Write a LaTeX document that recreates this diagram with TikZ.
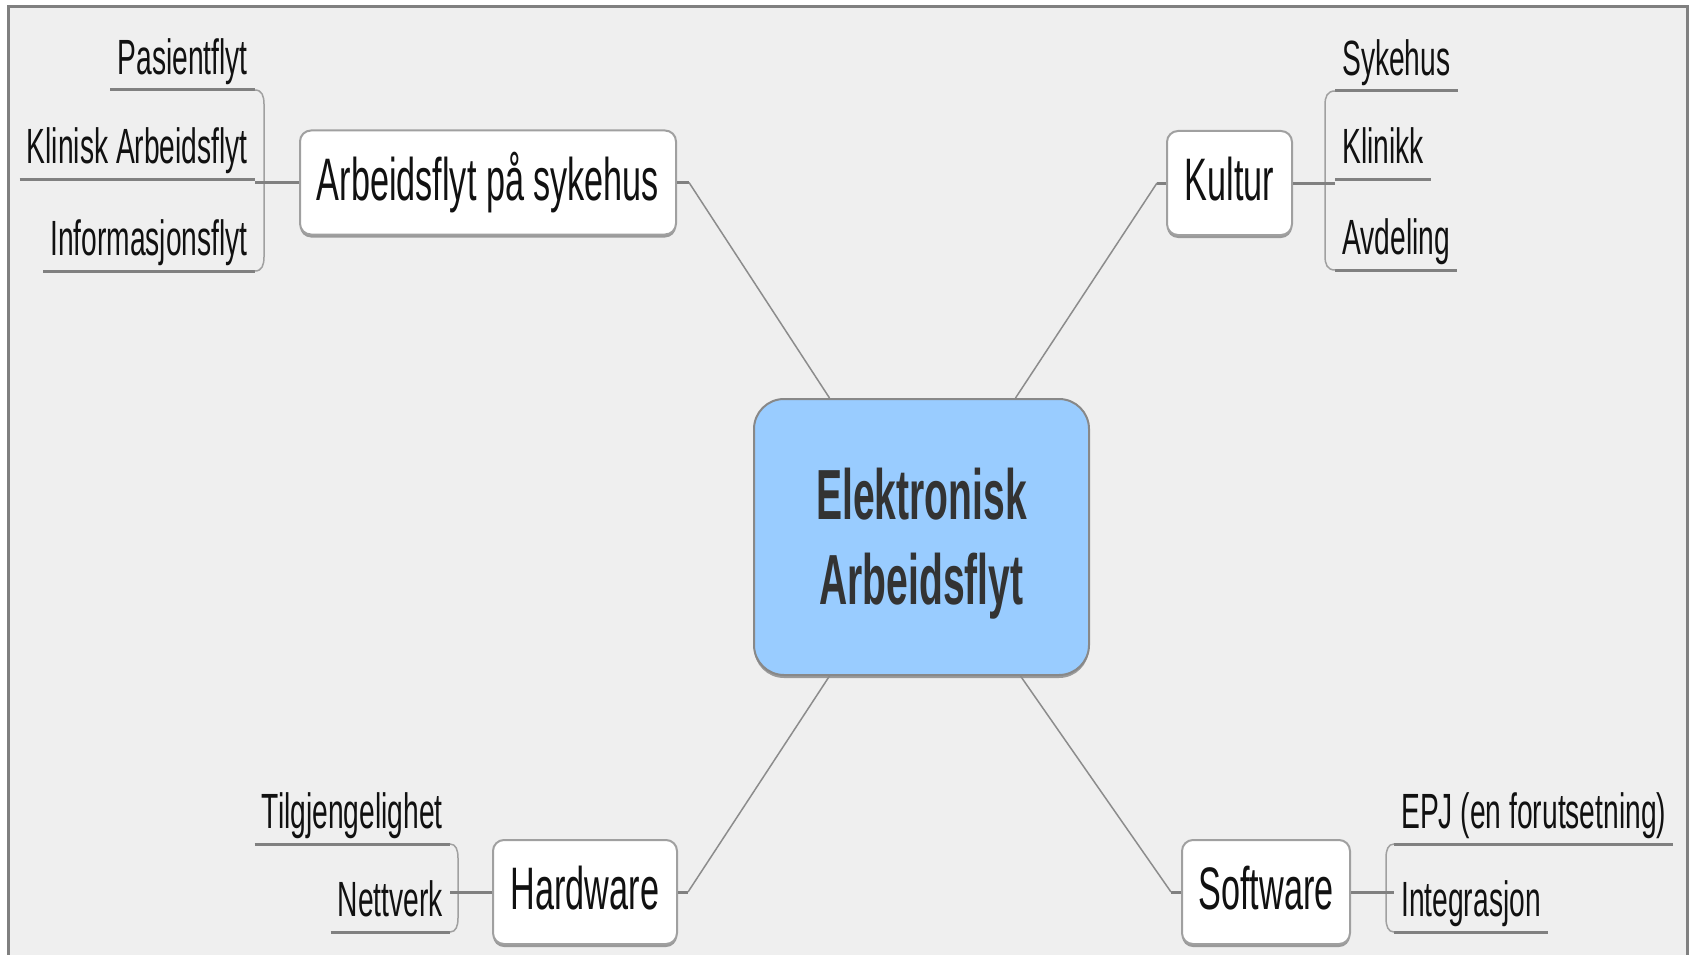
\documentclass[tikz,border=0pt]{standalone}
\usepackage{fontspec}
\newfontfamily\condfont[FakeStretch=0.57]{Liberation Sans}
\newfontfamily\condbold[FakeStretch=0.55]{Liberation Sans}
\usetikzlibrary{calc,shadows}
\definecolor{bg}{HTML}{EFEFEF}
\definecolor{framegray}{HTML}{808080}
\definecolor{linegray}{HTML}{808080}
\definecolor{bracegray}{HTML}{A0A0A0}
\definecolor{linkgray}{HTML}{8C8C8C}
\definecolor{bordergray}{HTML}{A0A0A0}
\definecolor{shadowgray}{HTML}{9A9A9A}
\definecolor{centerblue}{HTML}{99CCFF}
\definecolor{centerborder}{HTML}{888888}
\definecolor{textdark}{HTML}{333333}
\definecolor{textblack}{HTML}{111111}
\begin{document}
\begin{tikzpicture}[x=1pt,y=-1pt,
  topic/.style={draw=bordergray, line width=2pt, fill=white, rounded corners=11pt,
    inner sep=0pt, minimum height=104pt, text height=43pt, text depth=8pt,
    font=\condfont\fontsize{60}{72}\selectfont, text=textblack,
    drop shadow={shadow xshift=0pt, shadow yshift=-3pt, fill=shadowgray, opacity=1}},
  central/.style={draw=centerborder, line width=2pt, fill=centerblue, rounded corners=30pt,
    inner sep=0pt, minimum width=335pt, minimum height=276pt, align=center,
    font=\condbold\bfseries\fontsize{71}{85}\selectfont, text=textdark,
    drop shadow={shadow xshift=0pt, shadow yshift=-3pt, fill=shadowgray, opacity=1}},
  item/.style={inner xsep=7pt, inner ysep=0pt, text height=36pt, text depth=15pt,
    font=\condfont\fontsize{49.5}{58}\selectfont, text=textblack},
  uline/.style={draw=linegray, line width=3pt},
  stub/.style={draw=linegray, line width=3pt},
  brace/.style={draw=bracegray, line width=1.5pt},
  link/.style={draw=linkgray, line width=1.5pt},
]
\useasboundingbox (0,0) rectangle (1691,955);
\fill[white] (0,0) rectangle (1691,955);
\draw[draw=framegray, line width=3pt, fill=bg] (8,6.5) rectangle (1687,975);

% central and topic nodes
\node[central] (c) at (921.5,537) {\rule{0pt}{64pt}Elektronisk\\Arbeidsflyt};
\node[topic, minimum width=376pt] (a) at (488,182.5) {Arbeidsflyt på sykehus};
\node[topic, minimum width=125pt] (k) at (1229.5,183) {Kultur};
\node[topic, minimum width=184pt] (h) at (585,892) {Hardware};
\node[topic, minimum width=168pt] (s) at (1266,892) {Software};

% items
\node[item, anchor=south east] (p1) at (255,90) {Pasientflyt};
\node[item, anchor=south east] (p2) at (255,179) {Klinisk Arbeidsflyt};
\node[item, anchor=south east] (p3) at (255,271) {Informasjonsflyt};
\node[item, anchor=south west] (q1) at (1335,91) {Sykehus};
\node[item, anchor=south west] (q2) at (1335,179) {Klinikk};
\node[item, anchor=south west] (q3) at (1335,270) {Avdeling};
\node[item, anchor=south east] (t1) at (450,844) {Tilgjengelighet};
\node[item, anchor=south east] (t2) at (450,932) {Nettverk};
\node[item, anchor=south west] (u1) at (1394,844) {EPJ (en forutsetning)};
\node[item, anchor=south west] (u2) at (1394,932) {Integrasjon};

% underlines
\foreach \n in {p1,p2,p3,q1,q2,q3,t1,t2,u1,u2}
  \draw[uline] (\n.south west) -- (\n.south east);

% brackets
\draw[brace] (p1.south east) .. controls ($(p1.south east)+(7,0)$) and ($(p1.south east)+(9,6)$) .. ($(p1.south east)+(9,14)$)
  -- ($(p3.south east)+(9,-14)$) .. controls ($(p3.south east)+(9,-6)$) and ($(p3.south east)+(7,0)$) .. (p3.south east);
\draw[brace] (q1.south west) .. controls ($(q1.south west)+(-8,0)$) and ($(q1.south west)+(-10,6)$) .. ($(q1.south west)+(-10,14)$)
  -- ($(q3.south west)+(-10,-14)$) .. controls ($(q3.south west)+(-10,-6)$) and ($(q3.south west)+(-8,0)$) .. (q3.south west);
\draw[brace] (t1.south east) .. controls ($(t1.south east)+(6,0)$) and ($(t1.south east)+(8,6)$) .. ($(t1.south east)+(8,14)$)
  -- ($(t2.south east)+(8,-14)$) .. controls ($(t2.south east)+(8,-6)$) and ($(t2.south east)+(6,0)$) .. (t2.south east);
\draw[brace] (u1.south west) .. controls ($(u1.south west)+(-6,0)$) and ($(u1.south west)+(-8,6)$) .. ($(u1.south west)+(-8,14)$)
  -- ($(u2.south west)+(-8,-14)$) .. controls ($(u2.south west)+(-8,-6)$) and ($(u2.south west)+(-6,0)$) .. (u2.south west);

% stubs from topics to brackets
\draw[stub] (a.west) -- (a.west -| p2.south east);
\draw[stub] (k.east) -- (k.east -| q2.south west);
\draw[stub] (h.west) -- (h.west -| t1.south east);
\draw[stub] (s.east) -- (s.east -| u1.south west);

% links from topics to central
\draw[stub] (a.east) -- ($(a.east)+(12,0)$);
\draw[link] ($(a.east)+(12,0)$) -- ($(c.north)+(-92,0)$);
\draw[stub] (k.west) -- ($(k.west)+(-9,0)$);
\draw[link] ($(k.west)+(-9,0)$) -- ($(c.north)+(94,0)$);
\draw[stub] (h.east) -- ($(h.east)+(10,0)$);
\draw[link] ($(h.east)+(10,0)$) -- ($(c.south)+(-92,0)$);
\draw[stub] (s.west) -- ($(s.west)+(-10,0)$);
\draw[link] ($(s.west)+(-10,0)$) -- ($(c.south)+(99,0)$);
\end{tikzpicture}
\end{document}
